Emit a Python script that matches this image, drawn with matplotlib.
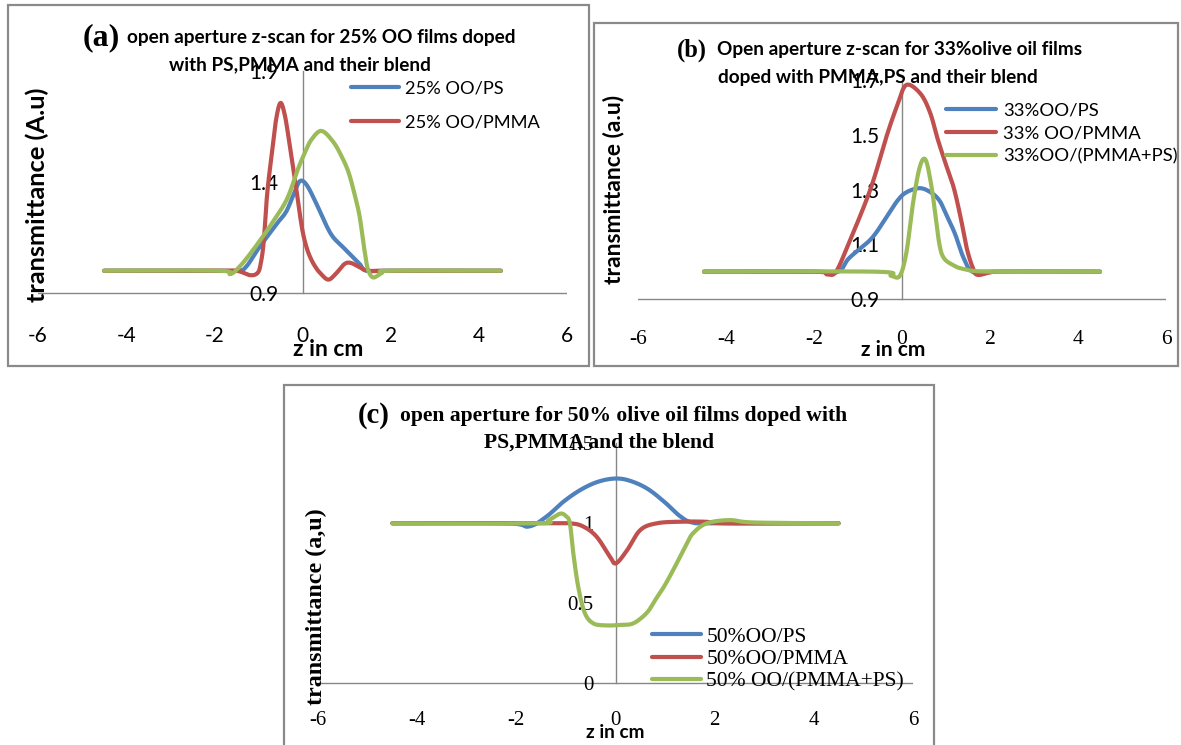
import numpy as np
import matplotlib
matplotlib.use("Agg")
import matplotlib.pyplot as plt
from matplotlib.patches import Rectangle

W, H, DPI = 1181, 745, 100

# ---------------- data ----------------
# panel (a): 25% OO
A_PS_Z = [-4.5, -2.0, -1.45, -1.27, -1.0, -0.74, -0.55, -0.36, -0.17, -0.05, 0.1, 0.32, 0.55, 0.7, 0.9, 1.1, 1.3, 1.45, 2.0, 4.5]
A_PS_T = [1.0, 1.0, 1.0, 1.02, 1.1, 1.17, 1.22, 1.27, 1.36, 1.405, 1.385, 1.3, 1.2, 1.15, 1.11, 1.07, 1.03, 1.0, 1.0, 1.0]
A_PM_Z = [-4.5, -2.0, -1.5, -1.19, -1.02, -0.95, -0.88, -0.8, -0.7, -0.6, -0.5, -0.4, -0.3, -0.2, -0.1, 0.0, 0.1, 0.2, 0.3, 0.4, 0.58, 0.75, 0.95, 1.1, 1.3, 1.5, 2.0, 4.5]
A_PM_T = [1.0, 1.0, 1.0, 0.98, 0.99, 1.03, 1.13, 1.35, 1.52, 1.68, 1.756, 1.7, 1.58, 1.45, 1.31, 1.18, 1.1, 1.05, 1.015, 0.99, 0.96, 0.985, 1.03, 1.035, 1.015, 1.0, 1.0, 1.0]
A_BL_Z = [-4.5, -1.9, -1.64, -1.42, -1.12, -0.74, -0.36, -0.1, 0.05, 0.2, 0.43, 0.7, 0.9, 1.05, 1.2, 1.3, 1.4, 1.48, 1.6, 1.8, 2.0, 4.5]
A_BL_T = [1.0, 1.0, 0.985, 1.02, 1.094, 1.2, 1.32, 1.46, 1.53, 1.59, 1.63, 1.58, 1.51, 1.44, 1.33, 1.24, 1.1, 1.01, 0.97, 0.99, 1.0, 1.0]

# panel (b): 33% OO
B_PS_Z = [-4.5, -2.0, -1.45, -1.2, -0.7, -0.35, -0.1, 0.1, 0.4, 0.65, 0.85, 1.0, 1.2, 1.4, 1.6, 2.0, 4.5]
B_PS_T = [1.0, 1.0, 1.0, 1.05, 1.12, 1.2, 1.26, 1.29, 1.305, 1.29, 1.26, 1.21, 1.14, 1.05, 1.0, 1.0, 1.0]
B_PM_Z = [-4.5, -2.0, -1.7, -1.5, -1.22, -0.72, -0.34, -0.1, 0.1, 0.42, 0.64, 0.8, 0.98, 1.17, 1.33, 1.48, 1.63, 1.73, 2.0, 2.3, 4.5]
B_PM_T = [1.0, 1.0, 0.99, 1.0, 1.1, 1.3, 1.5, 1.61, 1.682, 1.65, 1.58, 1.49, 1.40, 1.31, 1.2, 1.08, 1.006, 0.988, 0.997, 1.0, 1.0]
B_BL_Z = [-4.5, -0.6, -0.25, -0.05, 0.1, 0.25, 0.4, 0.53, 0.65, 0.75, 0.85, 0.95, 1.15, 1.4, 2.0, 4.5]
B_BL_T = [1.0, 1.0, 0.985, 0.985, 1.07, 1.25, 1.38, 1.41, 1.33, 1.22, 1.1, 1.05, 1.025, 1.01, 1.0, 1.0]

# panel (c): 50% OO
C_PS_Z = [-4.5, -2.2, -1.75, -1.4, -1.05, -0.7, -0.35, 0.0, 0.3, 0.65, 1.0, 1.3, 1.55, 2.0, 4.5]
C_PS_T = [1.0, 1.0, 0.98, 1.04, 1.135, 1.21, 1.26, 1.28, 1.265, 1.215, 1.13, 1.045, 1.005, 1.0, 1.0]
C_PM_Z = [-4.5, -1.4, -0.92, -0.65, -0.38, -0.11, 0.01, 0.23, 0.5, 0.83, 1.3, 1.8, 2.3, 4.5]
C_PM_T = [1.0, 1.0, 1.0, 0.98, 0.916, 0.79, 0.75, 0.83, 0.958, 1.0, 1.01, 1.01, 1.0, 1.0]
C_BL_Z = [-4.5, -1.6, -1.35, -1.12, -1.0, -0.92, -0.85, -0.75, -0.62, -0.45, -0.2, 0.1, 0.36, 0.63, 0.8, 0.97, 1.15, 1.3, 1.45, 1.57, 1.84, 2.3, 2.8, 4.5]
C_BL_T = [1.0, 1.0, 1.02, 1.06, 1.045, 1.0, 0.81, 0.6, 0.44, 0.375, 0.362, 0.365, 0.375, 0.44, 0.52, 0.6, 0.7, 0.79, 0.88, 0.94, 1.0, 1.02, 1.005, 1.0]

X_TICKS = [-6, -4, -2, 0, 2, 4, 6]
X_TICKLABELS = ["-6", "-4", "-2", "0", "2", "4", "6"]
A_YTICKS = [0.9, 1.4, 1.9]
A_YTICKLABELS = ["0.9", "1.4", "1.9"]
B_YTICKS = [0.9, 1.1, 1.3, 1.5, 1.7]
B_YTICKLABELS = ["0.9", "1.1", "1.3", "1.5", "1.7"]
C_YTICKS = [0, 0.5, 1, 1.5]
C_YTICKLABELS = ["0", "0.5", "1", "1.5"]

A_LABELS = ["25% OO/PS", "25% OO/PMMA"]
B_LABELS = ["33%OO/PS", "33% OO/PMMA", "33%OO/(PMMA+PS)"]
C_LABELS = ["50%OO/PS", "50%OO/PMMA", "50% OO/(PMMA+PS)"]

BLUE, RED, GREEN = "#4F81BD", "#C0504D", "#9BBB59"
AXGRAY = "#878787"
FRAME = "#8a8a8a"
SANS = ["Lato", "DejaVu Sans"]
SERIF = ["Liberation Serif", "DejaVu Serif"]
LW = 3.0

fig = plt.figure(figsize=(W / DPI, H / DPI), dpi=DPI)
fig.patch.set_facecolor("white")
R = fig.canvas.get_renderer()


def fx(px):
    return px / W


def fy(py):
    return 1 - py / H


def text_w(s, family, weight, size):
    t = fig.text(0, 0, s, fontfamily=family, fontweight=weight, fontsize=size)
    w = t.get_window_extent(R).width
    t.remove()
    return w


def fit(s, family, weight, target):
    return 12.0 * target / text_w(s, family, weight, 12.0)


def smooth(z, t, sx, sy, n=24):
    P = np.column_stack([np.asarray(z, float) * sx, np.asarray(t, float) * sy])
    P = np.vstack([P[0], P, P[-1]])
    out = []
    s = np.linspace(0, 1, n, endpoint=False)[:, None]
    for i in range(1, len(P) - 2):
        p0, p1, p2, p3 = P[i - 1], P[i], P[i + 1], P[i + 2]
        c1 = p1 + (p2 - p0) / 6.0
        c2 = p2 - (p3 - p1) / 6.0
        out.append((1 - s) ** 3 * p1 + 3 * (1 - s) ** 2 * s * c1 + 3 * (1 - s) * s ** 2 * c2 + s ** 3 * p2)
    out.append(P[-2][None, :])
    out = np.vstack(out)
    return out[:, 0] / sx, out[:, 1] / sy


def frame(l, t, r, b):
    fig.add_artist(Rectangle((fx(l), fy(b)), (r - l) / W, (b - t) / H, transform=fig.transFigure,
                             fill=False, ec=FRAME, lw=1.6))


def make_axes(l, t, r, b, ylim, cross, yticks, yticklabels, xfam, xsize, yfam, ysize, ypad):
    ax = fig.add_axes([fx(l), fy(b), (r - l) / W, (b - t) / H])
    ax.patch.set_visible(False)
    ax.set_xlim(-6, 6)
    ax.set_ylim(*ylim)
    for s in ["top", "right", "bottom"]:
        ax.spines[s].set_visible(False)
    ax.spines["left"].set_position(("data", 0))
    ax.spines["left"].set_bounds(cross, ylim[1])
    ax.spines["left"].set_color(AXGRAY)
    ax.spines["left"].set_linewidth(1.0)
    ax.axhline(cross, color=AXGRAY, lw=1.0, zorder=1)
    ax.set_xticks(X_TICKS)
    ax.set_xticklabels(X_TICKLABELS, fontfamily=xfam, fontsize=xsize)
    ax.set_yticks(yticks)
    ax.set_yticklabels(yticklabels, fontfamily=yfam, fontsize=ysize)
    ax.tick_params(length=0, colors="black")
    ax.tick_params(axis="y", pad=ypad)
    ax.tick_params(axis="x", pad=0)
    return ax


def draw_series(ax, series, sx, sy):
    lines = []
    for z, t, c in series:
        xs, ys = smooth(z, t, sx, sy)
        ln, = ax.plot(xs, ys, color=c, lw=LW, solid_capstyle="round", solid_joinstyle="round", zorder=3)
        lines.append(ln)
    return lines


def legend(ax, handles, labels, family, target_label, target_w, left_px, center_py, handle_px, pad_px, row_px):
    size = fit(target_label, family, "normal", target_w)
    fpx = size * DPI / 72.0
    text_h = fpx * 0.88
    leg = ax.legend(handles, labels, loc="center left", bbox_to_anchor=(fx(left_px), fy(center_py)),
                    bbox_transform=fig.transFigure, frameon=False, borderpad=0, borderaxespad=0,
                    handlelength=handle_px / fpx, handletextpad=pad_px / fpx,
                    labelspacing=(row_px - text_h) / fpx, prop=dict(family=family, size=size))
    return leg


def title(line1_label, lab_left, lab_w, text1, t1_left, t1_w, y1, text2, c2, y2, tfam, tweight):
    lsize = fit(line1_label, SERIF, "bold", lab_w)
    fig.text(fx(lab_left), fy(y1), line1_label, fontfamily=SERIF, fontweight="bold", fontsize=lsize,
             ha="left", va="center")
    tsize = fit(text1, tfam, tweight, t1_w)
    fig.text(fx(t1_left), fy(y1), text1, fontfamily=tfam, fontweight=tweight, fontsize=tsize,
             ha="left", va="center")
    fig.text(fx(c2), fy(y2), text2, fontfamily=tfam, fontweight=tweight, fontsize=tsize,
             ha="center", va="center")


def ylabel(s, family, cx, cy, span):
    size = fit(s, family, "bold", span)
    fig.text(fx(cx), fy(cy), s, fontfamily=family, fontweight="bold", fontsize=size,
             rotation=90, ha="center", va="center")


def xlabel(s, cx, cy, span):
    size = fit(s, SANS, "bold", span)
    fig.text(fx(cx), fy(cy), s, fontfamily=SANS, fontweight="bold", fontsize=size, ha="center", va="center")


# ---------------- panel (a) ----------------
frame(8, 5, 589, 366)
axA = make_axes(38, 71, 567, 326, (0.751, 1.9), 0.9, A_YTICKS, A_YTICKLABELS, SANS, 15, SANS, 15, 17)
la = draw_series(axA, [(A_PS_Z, A_PS_T, BLUE), (A_PM_Z, A_PM_T, RED), (A_BL_Z, A_BL_T, GREEN)], 44.1, 222.0)
legend(axA, la[:2], A_LABELS, SANS, A_LABELS[1], 135, 351, 105.5, 48, 6, 34)
title("(a)", 83, 37, "open aperture z-scan for 25% OO films doped", 127, 388, 38,
      "with PS,PMMA and their blend", 300, 65, SANS, "bold")
ylabel("transmittance (A.u)", SANS, 37, 195, 214)
xlabel("z in cm", 328, 349, 70)

# ---------------- panel (b) ----------------
frame(594, 23, 1178, 366)
axB = make_axes(638, 80, 1166, 330, (0.787, 1.7), 0.9, B_YTICKS, B_YTICKLABELS, SERIF, 15.5, SANS, 15, 16)
lb = draw_series(axB, [(B_PS_Z, B_PS_T, BLUE), (B_PM_Z, B_PM_T, RED), (B_BL_Z, B_BL_T, GREEN)], 44.0, 273.5)
legend(axB, lb, B_LABELS, SANS, B_LABELS[2], 173, 946, 133.5, 50, 7, 23.5)
title("(b)", 677, 30, "Open aperture z-scan for 33%olive oil films", 717, 364, 50,
      "doped with PMMA,PS and their blend", 878, 77, SANS, "bold")
ylabel("transmittance (a.u)", SANS, 613, 189, 188)
xlabel("z in cm", 893, 350, 64)

# ---------------- panel (c) ----------------
frame(284, 385, 934, 790)
axC = make_axes(318, 443.3, 913, 711, (-0.173, 1.5), 0.0, C_YTICKS, C_YTICKLABELS, SERIF, 15, SERIF, 15, 16)
lc = draw_series(axC, [(C_PS_Z, C_PS_T, BLUE), (C_PM_Z, C_PM_T, RED), (C_BL_Z, C_BL_T, GREEN)], 49.6, 160.0)
legend(axC, lc, C_LABELS, SERIF, C_LABELS[2], 198, 652, 659, 48.5, 6, 21.3)
title("(c)", 358, 32, "open aperture for 50% olive oil films doped with", 400, 444, 416,
      "PS,PMMA and the blend", 599, 443, SERIF, "bold")
ylabel("transmittance (a,u)", SERIF, 316, 607, 195)
xlabel("z in cm", 615, 732, 58)

fig.savefig("out.png", dpi=DPI, facecolor="white")
